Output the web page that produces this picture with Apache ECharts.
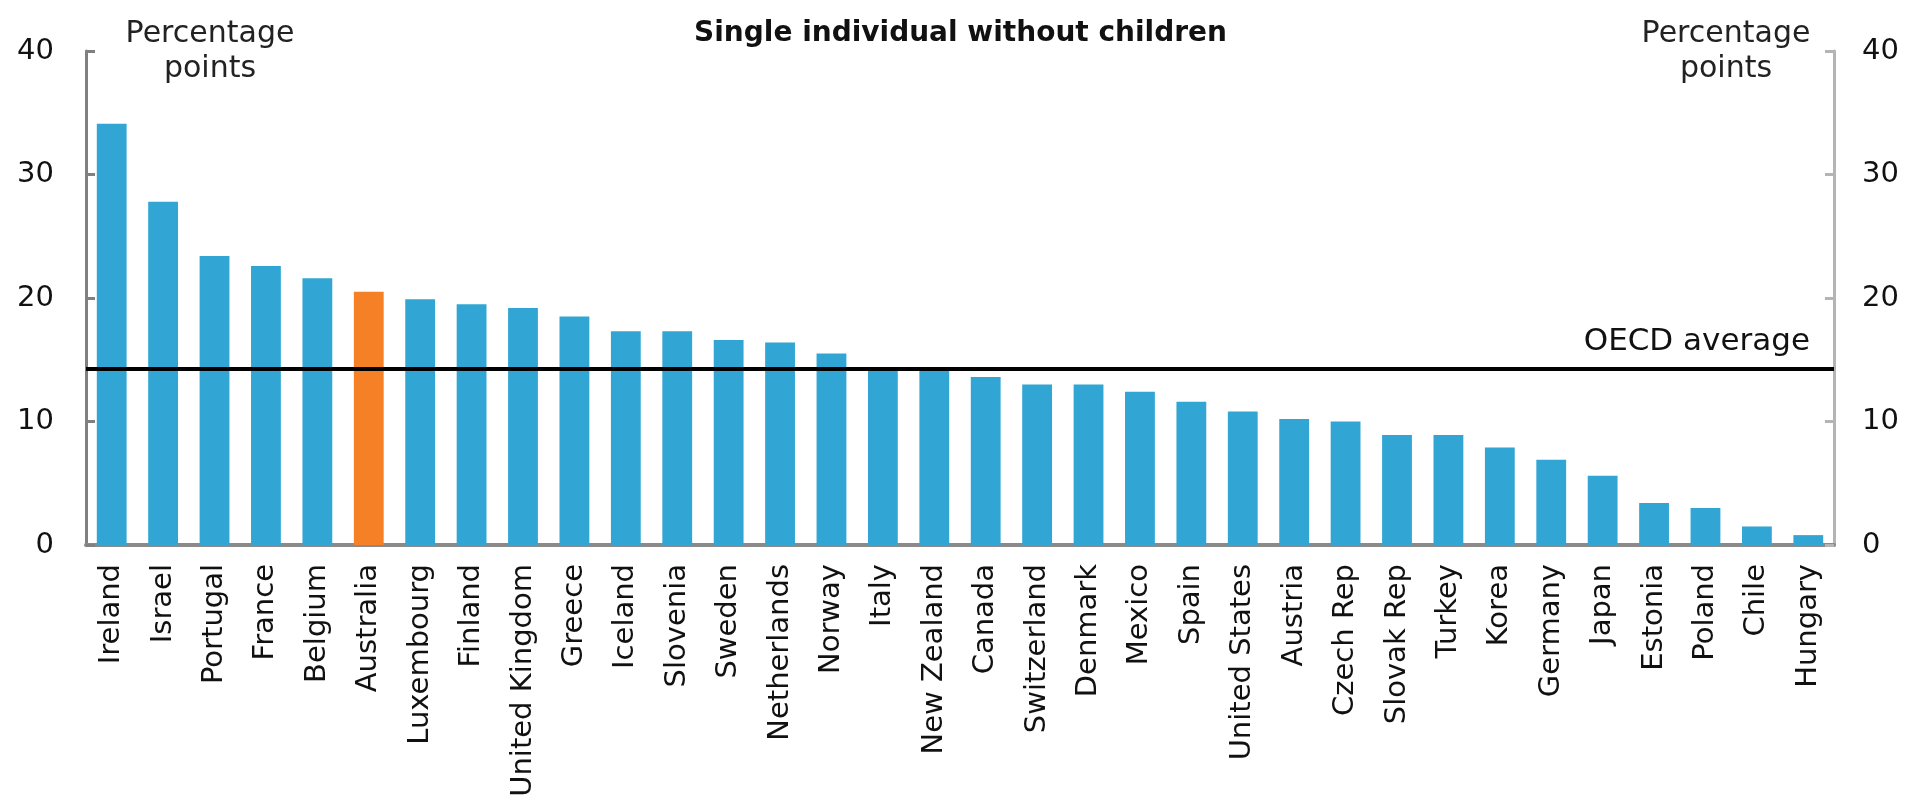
<!DOCTYPE html>
<html>
<head>
<meta charset="utf-8">
<script src="https://cdn.jsdelivr.net/npm/echarts@6/dist/echarts.min.js"></script>
<style>
  html, body { margin: 0; padding: 0; background: #ffffff; }
  #chart { width: 1921px; height: 805px; }
</style>
</head>
<body>
<div id="chart"></div>
<script>
// Countries, ordered from largest to smallest gap
const categories = [
  'Ireland', 'Israel', 'Portugal', 'France', 'Belgium', 'Australia',
  'Luxembourg', 'Finland', 'United Kingdom', 'Greece', 'Iceland', 'Slovenia',
  'Sweden', 'Netherlands', 'Norway', 'Italy', 'New Zealand', 'Canada',
  'Switzerland', 'Denmark', 'Mexico', 'Spain', 'United States', 'Austria',
  'Czech Rep', 'Slovak Rep', 'Turkey', 'Korea', 'Germany', 'Japan',
  'Estonia', 'Poland', 'Chile', 'Hungary'
];

// Percentage points, one per country
const values = [
  34.1, 27.8, 23.4, 22.6, 21.6, 20.5,
  19.9, 19.5, 19.2, 18.5, 17.3, 17.3,
  16.6, 16.4, 15.5, 14.2, 14.1, 13.6,
  13.0, 13.0, 12.4, 11.6, 10.8, 10.2,
  10.0, 8.9, 8.9, 7.9, 6.9, 5.6,
  3.4, 3.0, 1.5, 0.8
];

const highlighted = 'Australia';
const oecdAverage = 14.3;

// Value axis range and step (same on both sides)
const yMin = 0;
const yMax = 40;
const yStep = 10;

const FONT = 'DejaVu Sans';
const BLUE = '#31a6d4';
const ORANGE = '#f58025';

const chart = echarts.init(document.getElementById('chart'), null, { renderer: 'canvas' });

const barData = categories.map((c, i) => ({
  value: values[i],
  itemStyle: { color: c === highlighted ? ORANGE : BLUE }
}));

const valueAxisBase = {
  type: 'value',
  min: yMin,
  max: yMax,
  interval: yStep,
  splitLine: { show: false },
  axisLabel: { fontFamily: FONT, fontSize: 29, color: '#111' }
};

chart.setOption({
  animation: false,
  backgroundColor: '#ffffff',
  grid: { left: 86, right: 87, top: 51, bottom: 260, containLabel: false },
  xAxis: {
    type: 'category',
    data: categories,
    axisLine: { show: true, lineStyle: { color: '#8a8a8a', width: 4 } },
    axisTick: { show: false },
    axisLabel: {
      interval: 0,
      rotate: 90,
      margin: 19,
      fontFamily: FONT,
      fontSize: 29,
      color: '#111'
    }
  },
  yAxis: [
    Object.assign({}, valueAxisBase, {
      position: 'left',
      axisLine: { show: true, lineStyle: { color: '#808080', width: 3 } },
      axisTick: { show: true, inside: true, length: 9, lineStyle: { color: '#808080', width: 3 } },
      axisLabel: Object.assign({}, valueAxisBase.axisLabel, { margin: 32 })
    }),
    Object.assign({}, valueAxisBase, {
      position: 'right',
      axisLine: { show: true, lineStyle: { color: '#b4b4b4', width: 3 } },
      axisTick: { show: true, inside: true, length: 9, lineStyle: { color: '#b4b4b4', width: 3 } },
      axisLabel: Object.assign({}, valueAxisBase.axisLabel, { margin: 28 })
    })
  ],
  series: [{
    type: 'bar',
    data: barData,
    barWidth: '58%',
    yAxisIndex: 0,
    markLine: {
      silent: true,
      symbol: ['none', 'none'],
      lineStyle: { color: '#000000', width: 4, type: 'solid' },
      label: {
        show: true,
        position: 'insideEndTop',
        formatter: 'OECD average',
        fontFamily: FONT,
        fontSize: 31,
        color: '#111',
        distance: [24, 11]
      },
      data: [{ yAxis: oecdAverage }]
    }
  }],
  graphic: [
    {
      type: 'text', left: 'center', top: 20,
      style: { text: 'Single individual without children', font: 'bold 28px "DejaVu Sans"', fill: '#111' }
    },
    {
      type: 'text', x: 210, y: 17,
      style: { text: 'Percentage\npoints', font: '30px "DejaVu Sans"', fill: '#222', textAlign: 'center', lineHeight: 35 }
    },
    {
      type: 'text', x: 1726, y: 17,
      style: { text: 'Percentage\npoints', font: '30px "DejaVu Sans"', fill: '#222', textAlign: 'center', lineHeight: 35 }
    }
  ]
});
</script>
</body>
</html>
